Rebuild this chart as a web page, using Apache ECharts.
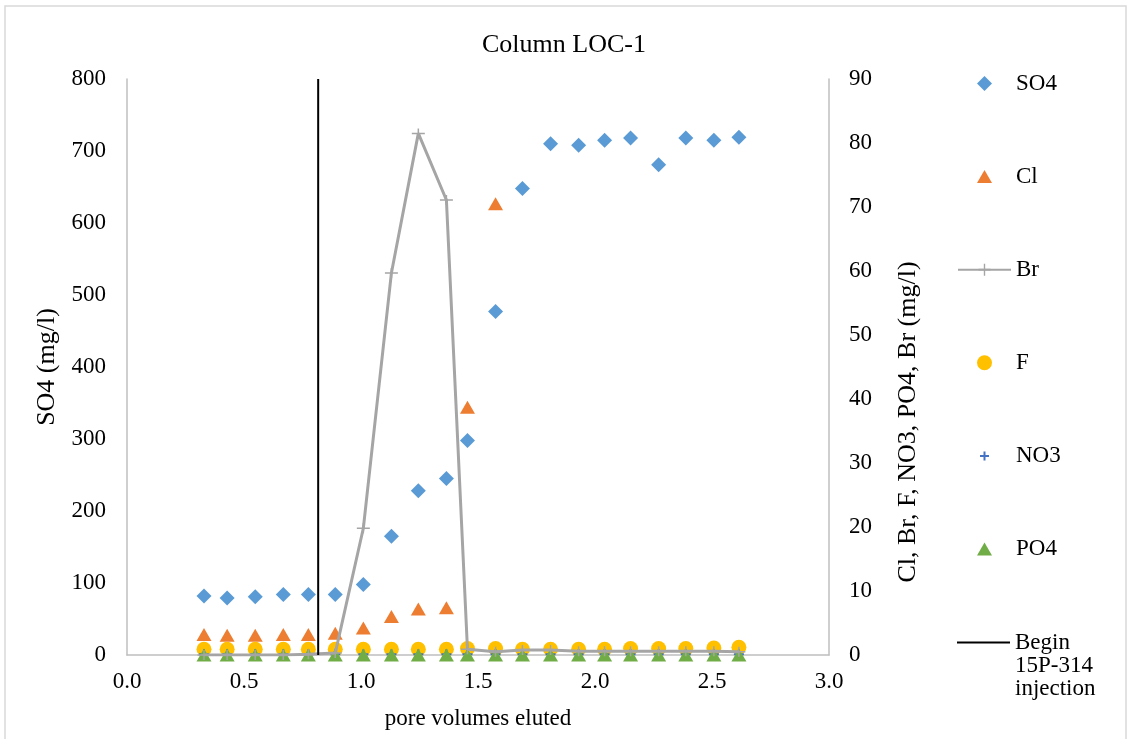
<!DOCTYPE html>
<html>
<head>
<meta charset="utf-8">
<script src="https://cdn.jsdelivr.net/npm/echarts@6/dist/echarts.min.js"></script>
<style>
  html, body { margin: 0; padding: 0; background: #fff; }
  #chart { width: 1128px; height: 739px; }
</style>
</head>
<body>
<div id="chart"></div>
<script>
// Pore volumes eluted at each sampling point
const poreVolumes = [0.329, 0.428, 0.548, 0.668, 0.775, 0.890, 1.010, 1.130, 1.245, 1.365, 1.455,
                     1.575, 1.690, 1.810, 1.930, 2.041, 2.152, 2.272, 2.388, 2.508, 2.615];
// SO4 on the left axis (mg/l)
const so4 = [82, 79, 81, 84, 84, 84, 98, 165, 228, 245, 298, 477, 648, 710, 708, 715, 718, 681, 718, 715, 719];
// Right-axis analytes (mg/l)
const cl  = [3.2, 3.1, 3.1, 3.2, 3.2, 3.4, 4.2, 6.0, 7.2, 7.4, 38.7, 70.5, null, null, null, null, null, null, null, null, null];
const br  = [0, 0, 0, 0, 0.1, 0.3, 19.8, 59.7, 81.5, 71.1, 0.9, 0.5, 0.8, 0.8, 0.6, 0.6, 0.6, 0.6, 0.6, 0.6, 0.5];
const fl  = [0.9, 0.9, 0.9, 0.9, 0.9, 0.9, 0.9, 0.9, 0.9, 0.9, 1.0, 1.0, 0.9, 0.9, 0.9, 0.9, 1.0, 1.0, 1.0, 1.1, 1.2];
const no3 = [0.1, 0.1, 0.1, 0.1, 0.1, 0.1, 0.1, 0.1, 0.1, 0.1, 0.1, 0.1, 0.1, 0.1, 0.1, 0.1, 0.1, 0.1, 0.1, 0.1, 0.1];
const po4 = [0, 0, 0, 0, 0, 0, 0, 0, 0, 0, 0, 0, 0, 0, 0, 0, 0, 0, 0, 0, 0];
// Start of the 15P-314 injection (pore volumes), spanning the SO4 axis
const injectionX = [0.817, 0.817];
const injectionY = [0, 800];

const xTicks = { min: 0, max: 3, interval: 0.5 };
const leftTicks = { min: 0, max: 800, interval: 100 };
const rightTicks = { min: 0, max: 90, interval: 10 };

const FONT = 'Liberation Serif';
const pair = (xs, ys) => xs.map((x, i) => [x, ys[i]]);

// Marker shapes
const plusWide = 'path://M0,4.25 H13 V5.75 H0 Z M5.75,0 H7.25 V10 H5.75 Z';
const plusSmall = 'path://M0,4 H10 V6 H0 Z M4,0 H6 V10 H4 Z';

// Legend icons: each spans the full 53x15 legend cell (corner move-tos fix the box)
// so the glyph keeps its own proportions in the middle of the cell.
const BOX = 'M0,0 M53,15 ';
const keyDiamond  = 'path://' + BOX + 'M26.5,0 L34,7.5 L26.5,15 L19,7.5 Z';
const keyTriangle = 'path://' + BOX + 'M26.5,1 L34,14 L19,14 Z';
const keyCircle   = 'path://' + BOX + 'M19,7.5 A7.5,7.5 0 1 1 34,7.5 A7.5,7.5 0 1 1 19,7.5 Z';
const keyPlus     = 'path://' + BOX + 'M22,6.5 H31 V8.5 H22 Z M25.5,3 H27.5 V12 H25.5 Z';
const keyLine     = 'path://M0,0 H53 V2 H0 Z';

const chart = echarts.init(document.getElementById('chart'), null, { renderer: 'canvas' });

const axisText = { color: '#000', fontFamily: FONT, fontSize: 23 };
const titleText = { color: '#000', fontFamily: FONT, fontSize: 26 };

chart.setOption({
  animation: false,
  backgroundColor: '#fff',
  textStyle: { fontFamily: FONT },
  title: {
    text: 'Column LOC-1',
    left: 'center',
    top: 27,
    textStyle: { ...titleText, fontWeight: 'normal' }
  },
  graphic: [{
    type: 'rect',
    shape: { x: 5, y: 6, width: 1121, height: 740 },
    style: { fill: 'none', stroke: '#d9d9d9', lineWidth: 1.5 },
    silent: true
  }],
  grid: { left: 127, right: 299, top: 79, bottom: 84, outerBoundsMode: 'none' },
  legend: [{
    orient: 'vertical',
    left: 957,
    top: 72,
    padding: 0,
    itemWidth: 53,
    itemHeight: 15,
    itemGap: 70.1,
    textStyle: { color: '#000', fontFamily: FONT, fontSize: 23, lineHeight: 22 },
    data: [
      { name: 'SO4', icon: keyDiamond },
      { name: 'Cl', icon: keyTriangle },
      'Br',
      { name: 'F', icon: keyCircle },
      { name: 'NO3', icon: keyPlus },
      { name: 'PO4', icon: keyTriangle }
    ]
  }, {
    orient: 'vertical',
    left: 957,
    top: 585,
    padding: 0,
    itemWidth: 53,
    itemHeight: 15,
    formatter: name => '\n\n' + name.split(' ').join('\n'),
    textStyle: { color: '#000', fontFamily: FONT, fontSize: 23, lineHeight: 23 },
    data: [{ name: 'Begin 15P-314 injection', icon: keyLine }]
  }],
  xAxis: {
    type: 'value',
    min: xTicks.min, max: xTicks.max, interval: xTicks.interval,
    name: 'pore volumes eluted',
    nameLocation: 'middle',
    nameGap: 52,
    nameMoveOverlap: false,
    nameTextStyle: axisText,
    axisLine: { show: true, onZero: false, lineStyle: { color: '#bfbfbf', width: 1.5 } },
    axisTick: { show: false },
    splitLine: { show: false },
    axisLabel: { ...axisText, margin: 15, formatter: v => v.toFixed(1) }
  },
  yAxis: [{
    type: 'value',
    position: 'left',
    min: leftTicks.min, max: leftTicks.max, interval: leftTicks.interval,
    name: 'SO4 (mg/l)',
    nameLocation: 'middle',
    nameGap: 67,
    nameMoveOverlap: false,
    nameTextStyle: titleText,
    axisLine: { show: true, lineStyle: { color: '#bfbfbf', width: 1.5 } },
    axisTick: { show: false },
    splitLine: { show: false },
    axisLabel: { ...axisText, margin: 21 }
  }, {
    type: 'value',
    position: 'right',
    min: rightTicks.min, max: rightTicks.max, interval: rightTicks.interval,
    name: 'Cl, Br, F, NO3, PO4, Br (mg/l)',
    nameLocation: 'middle',
    nameGap: 66,
    nameMoveOverlap: false,
    nameTextStyle: { ...titleText, padding: [0, 110, 0, 0] },
    axisLine: { show: true, lineStyle: { color: '#bfbfbf', width: 1.5 } },
    axisTick: { show: false },
    splitLine: { show: false },
    axisLabel: { ...axisText, margin: 20 }
  }],
  series: [{
    name: 'SO4', type: 'scatter', yAxisIndex: 0,
    symbol: 'diamond', symbolSize: 15,
    itemStyle: { color: '#5b9bd5', opacity: 1 },
    data: pair(poreVolumes, so4)
  }, {
    name: 'Cl', type: 'scatter', yAxisIndex: 1,
    symbol: 'triangle', symbolSize: [15, 13],
    itemStyle: { color: '#ed7d31', opacity: 1 },
    data: pair(poreVolumes, cl)
  }, {
    name: 'Br', type: 'line', yAxisIndex: 1,
    symbol: plusWide, symbolSize: [13, 10], showAllSymbol: true,
    itemStyle: { color: '#a5a5a5', opacity: 1 },
    lineStyle: { color: '#a5a5a5', width: 3 },
    data: pair(poreVolumes, br)
  }, {
    name: 'F', type: 'scatter', yAxisIndex: 1,
    symbol: 'circle', symbolSize: 15,
    itemStyle: { color: '#ffc000', opacity: 1 },
    data: pair(poreVolumes, fl)
  }, {
    name: 'NO3', type: 'scatter', yAxisIndex: 1,
    symbol: plusSmall, symbolSize: 10,
    itemStyle: { color: '#4472c4', opacity: 1 },
    data: pair(poreVolumes, no3)
  }, {
    name: 'PO4', type: 'scatter', yAxisIndex: 1,
    symbol: 'triangle', symbolSize: [15, 13],
    itemStyle: { color: '#70ad47', opacity: 1 },
    data: pair(poreVolumes, po4)
  }, {
    name: 'Begin 15P-314 injection', type: 'line', yAxisIndex: 0,
    symbol: 'none',
    lineStyle: { color: '#000', width: 2 },
    itemStyle: { color: '#000' },
    data: pair(injectionX, injectionY)
  }]
});
</script>
</body>
</html>
